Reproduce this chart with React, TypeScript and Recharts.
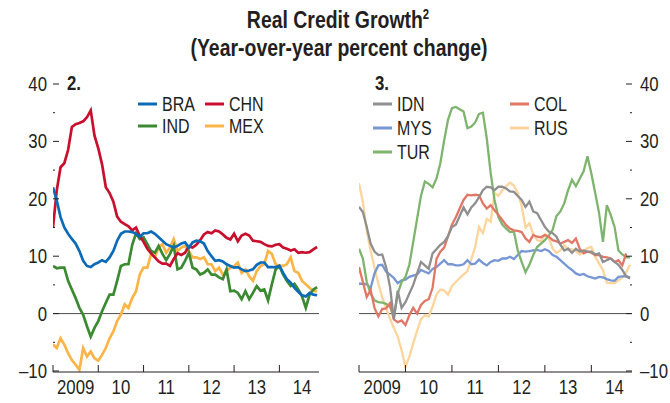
import { LineChart, Line, XAxis, YAxis, ReferenceLine } from "recharts";

// months since Jan 2009 (monthly data, ~Jan 2009 to Nov 2014)
const MONTHS = Array.from({ length: 71 }, (_, i) => i);

// panel 2
const BRA = [22.0, 19.7, 16.8, 15.0, 13.9, 13.0, 12.2, 10.9, 9.2, 8.3, 8.1, 8.6, 8.9, 9.3, 9.0, 9.8, 10.9, 12.7, 13.9, 14.3, 14.3, 14.2, 13.9, 13.4, 14.0, 14.0, 14.3, 13.9, 13.3, 12.7, 12.1, 11.8, 11.5, 11.8, 12.2, 12.4, 11.5, 12.4, 12.7, 12.6, 12.2, 10.9, 10.0, 9.2, 9.3, 9.1, 8.6, 8.3, 8.0, 8.1, 7.7, 7.4, 7.5, 7.7, 8.5, 8.9, 8.9, 8.1, 8.1, 8.1, 8.3, 7.1, 6.0, 5.4, 4.5, 3.8, 3.2, 3.0, 3.6, 3.3, 3.2];
const CHN = [15.0, 21.5, 25.5, 26.2, 28.5, 32.5, 33.0, 33.2, 33.5, 34.2, 35.4, 31.0, 28.8, 26.0, 22.0, 21.0, 19.5, 16.9, 16.0, 15.6, 15.2, 14.5, 15.0, 13.5, 12.5, 11.3, 10.5, 9.8, 9.1, 8.7, 8.7, 8.3, 9.5, 10.5, 10.2, 10.6, 11.7, 11.5, 12.0, 12.8, 13.8, 14.2, 14.0, 14.5, 14.3, 13.8, 13.2, 12.9, 13.9, 12.6, 13.6, 13.9, 13.6, 12.7, 12.6, 12.5, 12.1, 11.8, 11.7, 12.0, 12.1, 11.5, 11.3, 11.0, 11.2, 10.6, 10.7, 10.6, 10.7, 11.2, 11.6];
const IND = [8.3, 7.9, 8.0, 8.0, 5.7, 4.2, 2.7, 1.0, -0.2, -2.2, -4.0, -2.5, -1.3, 0.4, 1.9, 3.3, 3.3, 5.7, 8.3, 8.6, 8.6, 12.0, 14.0, 13.0, 13.3, 12.1, 10.9, 10.6, 11.8, 10.4, 9.3, 10.4, 11.8, 7.7, 8.0, 9.2, 10.6, 8.0, 7.7, 6.8, 7.1, 7.7, 6.8, 6.8, 6.3, 6.0, 7.7, 3.9, 4.0, 3.6, 2.5, 3.9, 2.5, 3.6, 4.8, 4.0, 4.2, 2.3, 5.1, 7.7, 8.3, 6.8, 5.7, 4.8, 5.2, 4.2, 3.0, 1.0, 3.3, 4.2, 4.6];
const MEX = [-5.4, -6.0, -4.3, -5.4, -6.9, -8.1, -8.9, -9.8, -6.0, -7.5, -6.6, -7.8, -8.2, -7.2, -6.0, -4.3, -3.1, -1.3, -0.2, 1.6, 1.0, 2.7, 3.9, 6.8, 8.0, 8.0, 10.4, 9.8, 11.5, 12.1, 10.6, 11.5, 13.0, 10.9, 11.5, 11.8, 10.9, 9.8, 9.8, 9.5, 9.8, 8.6, 8.6, 7.4, 8.0, 6.8, 7.4, 8.0, 8.3, 8.9, 7.1, 7.7, 6.5, 5.7, 7.4, 8.3, 8.6, 10.9, 10.4, 8.6, 8.3, 8.3, 8.6, 9.8, 7.4, 7.1, 5.7, 5.1, 4.5, 3.9, 3.9];

// panel 3
const IDN = [18.6, 17.7, 15.1, 12.2, 10.8, 10.2, 10.3, 8.1, 4.7, -1.0, 4.0, 1.0, 2.0, 3.5, 5.0, 7.0, 9.0, 8.4, 7.8, 10.5, 11.2, 12.0, 12.5, 13.5, 15.1, 15.5, 17.0, 18.5, 17.3, 18.5, 19.2, 20.3, 21.5, 22.1, 22.0, 21.5, 22.1, 22.1, 21.8, 21.3, 21.2, 20.5, 19.8, 18.6, 19.5, 17.8, 17.5, 16.3, 15.1, 14.3, 14.0, 13.4, 12.0, 11.0, 11.3, 10.6, 11.3, 10.8, 11.0, 10.8, 10.8, 10.3, 10.5, 9.0, 9.3, 9.6, 9.0, 8.5, 7.6, 6.5, 6.1];
const MYS = [5.2, 5.2, 5.1, 4.4, 7.0, 8.4, 8.5, 7.3, 6.8, 6.2, 5.3, 5.8, 5.9, 6.4, 6.6, 6.8, 7.6, 7.3, 7.0, 7.8, 8.1, 8.7, 9.3, 8.6, 8.6, 8.4, 8.4, 8.6, 9.3, 8.6, 8.7, 9.4, 8.8, 8.4, 9.0, 9.3, 9.2, 9.6, 9.6, 9.9, 9.5, 10.2, 10.9, 10.8, 10.9, 11.0, 11.1, 10.9, 11.2, 10.9, 10.2, 9.9, 9.3, 8.7, 8.1, 7.6, 7.0, 6.7, 6.9, 6.5, 6.3, 6.1, 6.4, 6.3, 6.0, 5.8, 5.7, 6.4, 6.5, 6.5, 6.3];
const TUR = [11.3, 9.6, 5.5, 3.5, 2.3, 2.0, 1.9, 1.7, 1.2, -0.6, 3.5, 5.5, 6.4, 8.5, 12.5, 16.5, 20.5, 23.0, 22.6, 22.0, 23.5, 26.2, 30.2, 33.8, 35.8, 36.0, 35.6, 35.2, 32.3, 32.6, 33.3, 34.8, 35.0, 30.5, 24.5, 19.8, 16.8, 15.5, 14.8, 14.2, 14.3, 11.0, 9.0, 7.2, 8.5, 10.2, 11.6, 12.2, 12.8, 13.6, 14.6, 17.0, 17.8, 19.2, 21.5, 23.3, 22.2, 23.5, 24.8, 27.4, 24.4, 21.0, 17.5, 12.5, 18.9, 17.2, 15.1, 11.0, 10.3, 9.8, 9.8];
const COL = [8.1, 5.5, 2.9, 4.1, 1.0, -0.5, 0.8, 0.9, 1.8, -1.0, -1.5, -1.2, -2.0, -0.3, 1.0, 0.0, 1.5, 2.2, 2.5, 4.5, 9.5, 10.8, 11.5, 13.5, 15.5, 16.8, 18.3, 19.8, 20.7, 20.6, 20.7, 20.6, 19.2, 18.3, 18.9, 18.0, 17.2, 16.3, 15.4, 14.8, 14.5, 14.4, 14.2, 13.1, 12.5, 13.7, 13.4, 13.3, 13.7, 13.4, 12.8, 12.6, 12.2, 12.5, 12.8, 12.3, 13.1, 11.3, 10.5, 10.8, 10.6, 10.2, 10.2, 9.9, 9.8, 9.6, 9.0, 9.3, 8.4, 10.5, null];
const RUS = [22.7, 19.5, 14.5, 11.0, 8.0, 5.2, 2.8, 1.0, -0.9, -2.5, -4.0, -6.4, -9.3, -7.5, -5.2, -3.0, -1.0, -0.3, -0.5, 1.2, 3.3, 4.2, 4.0, 3.3, 4.8, 5.5, 6.2, 6.8, 7.4, 9.5, 11.6, 15.1, 14.0, 16.5, 16.0, 21.0, 20.5, 21.5, 22.2, 22.8, 22.3, 21.0, 18.8, 15.0, 15.7, 13.8, 12.8, 12.6, 13.8, 13.2, 11.3, 10.6, 11.0, 11.9, 11.3, 11.2, 10.9, 10.3, 10.9, 11.4, 11.6, 9.9, 8.7, 7.6, 5.4, 5.3, 5.3, 5.8, 6.3, 7.2, 8.5];

// axes
const YEAR_STARTS = [0, 12, 24, 36, 48, 60];
const YEAR_MIDS = [6, 18, 30, 42, 54, 66];
const YEAR_LABELS = ["2009", "10", "11", "12", "13", "14"];
const Y_TICKS = [-10, -5, 0, 5, 10, 15, 20, 25, 30, 35, 40];

// no condensed font installed: squeeze Liberation Sans horizontally
const FONT = "'Liberation Sans', Arial, sans-serif";
const INK = "#231f20";

const rows2 = MONTHS.map((m, i) => ({ m, BRA: BRA[i], CHN: CHN[i], IND: IND[i], MEX: MEX[i] }));
const rows3 = MONTHS.map((m, i) => ({ m, IDN: IDN[i], MYS: MYS[i], TUR: TUR[i], COL: COL[i], RUS: RUS[i] }));

const fmt = (v: number) => (v < 0 ? "\u2013" + Math.abs(v) : String(v));

function CText({ x, y, anchor = "start", size = 20, bold = false, sx = 0.84, children }: any) {
  return (
    <text
      transform={`translate(${x},${y}) scale(${sx},1)`}
      textAnchor={anchor}
      fontFamily={FONT}
      fontSize={size}
      fontWeight={bold ? "bold" : "normal"}
      fill={INK}
    >
      {children}
    </text>
  );
}

// y tick: short mark pointing into the plot, label optional
function YTick(props: any) {
  const { x, y, payload, side, label } = props;
  const v = payload.value;
  const major = v % 10 === 0;
  const len = major ? 6 : 2;
  const dir = side === "left" ? 1 : -1;
  return (
    <g>
      <line x1={x} x2={x + dir * len} y1={y} y2={y} stroke={INK} strokeWidth={1} />
      {label && major && (
        <CText x={side === "left" ? x - 6 : x + 8} y={y + 7} anchor={side === "left" ? "end" : "start"}>
          {fmt(v)}
        </CText>
      )}
    </g>
  );
}

function XTickMark(props: any) {
  const { x, y } = props;
  return <line x1={x} x2={x} y1={y} y2={y - 7} stroke={INK} strokeWidth={1} />;
}

function XTickLabel(props: any) {
  const { x, y, payload } = props;
  const idx = YEAR_MIDS.indexOf(payload.value);
  return (
    <CText x={x} y={y + 23} anchor="middle">
      {YEAR_LABELS[idx]}
    </CText>
  );
}

function Panel({ rows, series, labelSide, margin, width }: any) {
  const other = labelSide === "left" ? "right" : "left";
  return (
    <LineChart width={width} height={403} data={rows} margin={margin}>
      <XAxis
        xAxisId="m"
        dataKey="m"
        type="number"
        domain={[0, 70.5]}
        ticks={YEAR_STARTS}
        height={1}
        tickSize={0}
        tickMargin={0}
        axisLine={{ stroke: INK, strokeWidth: 1.2 }}
        tickLine={false}
        tick={<XTickMark />}
        interval={0}
        allowDataOverflow
      />
      <XAxis
        xAxisId="lab"
        dataKey="m"
        type="number"
        domain={[0, 70.5]}
        ticks={YEAR_MIDS}
        height={1}
        tickSize={0}
        tickMargin={0}
        axisLine={false}
        tickLine={false}
        tick={<XTickLabel />}
        interval={0}
        allowDataOverflow
      />
      <YAxis
        yAxisId="a"
        orientation={labelSide}
        domain={[-10, 40]}
        ticks={Y_TICKS}
        width={1}
        tickSize={0}
        tickMargin={0}
        axisLine={false}
        tickLine={false}
        interval={0}
        tick={<YTick side={labelSide} label />}
      />
      <YAxis
        yAxisId="b"
        orientation={other}
        domain={[-10, 40]}
        ticks={Y_TICKS}
        width={1}
        tickSize={0}
        tickMargin={0}
        axisLine={false}
        tickLine={false}
        interval={0}
        tick={<YTick side={other} />}
      />
      <ReferenceLine xAxisId="m" yAxisId="a" y={0} stroke="#4d4d4d" strokeWidth={1} />
      {series.map((s: any) => (
        <Line
          key={s.key}
          xAxisId="m"
          yAxisId="a"
          dataKey={s.key}
          stroke={s.color}
          strokeWidth={s.w}
          dot={false}
          type="linear"
          isAnimationActive={false}
        />
      ))}
    </LineChart>
  );
}

const SERIES2 = [
  { key: "MEX", color: "#fbb447", w: 2.7 },
  { key: "IND", color: "#3b8a31", w: 2.7 },
  { key: "CHN", color: "#c8102e", w: 2.7 },
  { key: "BRA", color: "#0b6bb8", w: 2.7 },
];
const SERIES3 = [
  { key: "RUS", color: "#fdd59c", w: 2.3 },
  { key: "MYS", color: "#7696d4", w: 2.3 },
  { key: "TUR", color: "#7eb46e", w: 2.3 },
  { key: "COL", color: "#e27766", w: 2.3 },
  { key: "IDN", color: "#8f8f8f", w: 2.3 },
];

const LEGEND = [
  { name: "BRA", color: "#0b6bb8", x: 138, y: 104 },
  { name: "CHN", color: "#c8102e", x: 205, y: 104 },
  { name: "IND", color: "#3b8a31", x: 138, y: 126 },
  { name: "MEX", color: "#fbb447", x: 205, y: 126 },
  { name: "IDN", color: "#8f8f8f", x: 373, y: 104 },
  { name: "MYS", color: "#7696d4", x: 373, y: 128 },
  { name: "TUR", color: "#7eb46e", x: 373, y: 152 },
  { name: "COL", color: "#e27766", x: 510, y: 104 },
  { name: "RUS", color: "#fdd59c", x: 510, y: 128 },
];

export default function App() {
  return (
    <div style={{ position: "absolute", left: 0, top: 0, width: 670, height: 403, background: "#fff", overflow: "hidden" }}>
      <div style={{ position: "absolute", left: 0, top: 0 }}>
        <Panel rows={rows2} series={SERIES2} labelSide="left" width={330} margin={{ top: 84, right: 10, bottom: 30, left: 52 }} />
      </div>
      <div style={{ position: "absolute", left: 330, top: 0 }}>
        <Panel rows={rows3} series={SERIES3} labelSide="right" width={340} margin={{ top: 84, right: 37, bottom: 30, left: 28 }} />
      </div>
      <svg width={670} height={403} style={{ position: "absolute", left: 0, top: 0, pointerEvents: "none" }}>
        <CText x={338} y={28} anchor="middle" size={24} bold sx={0.81}>
          Real Credit Growth
          <tspan fontSize={14} dy={-9}>2</tspan>
        </CText>
        <CText x={339} y={56} anchor="middle" size={24} bold sx={0.81}>
          (Year-over-year percent change)
        </CText>
        <CText x={67} y={90} size={20} bold>2.</CText>
        <CText x={375} y={90} size={20} bold>3.</CText>
        {LEGEND.map((l) => (
          <g key={l.name}>
            <line x1={l.x} x2={l.x + 19} y1={l.y} y2={l.y} stroke={l.color} strokeWidth={3} />
            <CText x={l.x + 24} y={l.y + 7} size={19.5} sx={0.82}>
              {l.name}
            </CText>
          </g>
        ))}
      </svg>
    </div>
  );
}
